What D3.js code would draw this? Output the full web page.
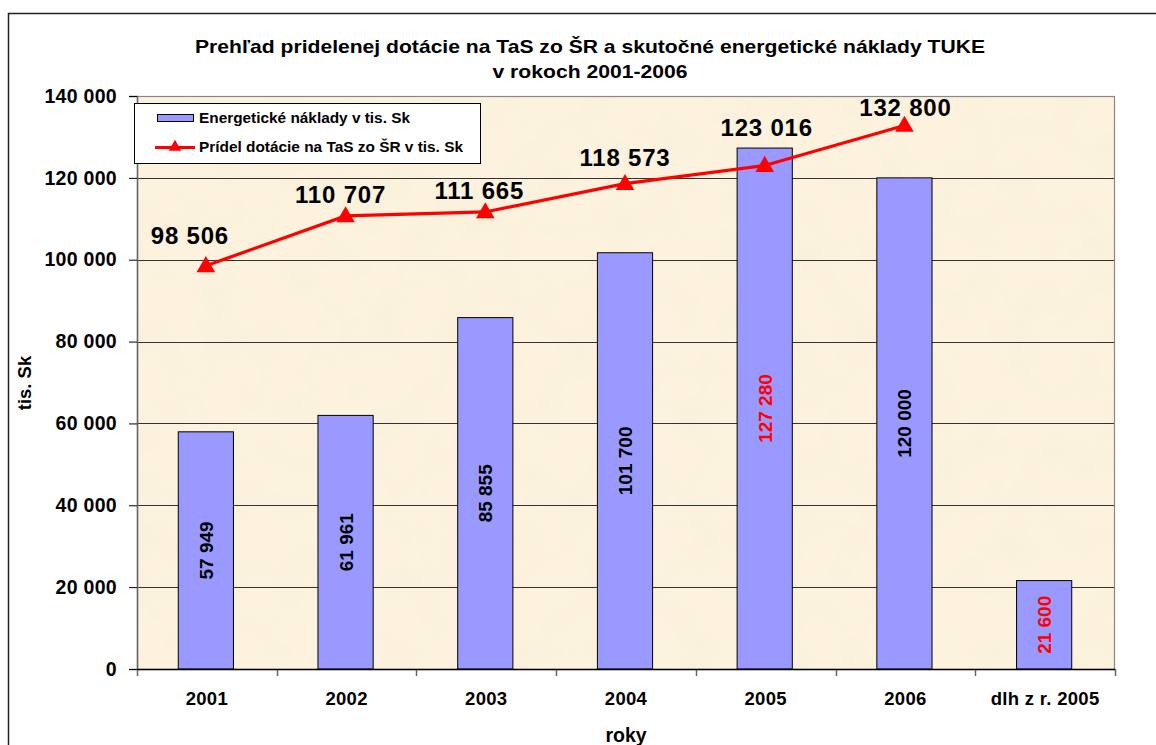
<!DOCTYPE html>
<html>
<head>
<meta charset="utf-8">
<script src="https://cdn.jsdelivr.net/npm/d3@7"></script>
<style>
  body { margin: 0; background: #fff; }
  svg text { font-family: Arial, "Liberation Sans", sans-serif; font-weight: bold; }
</style>
</head>
<body>
<div id="chart"></div>
<script>
// chart data
const categories = ["2001", "2002", "2003", "2004", "2005", "2006", "dlh z r. 2005"];
const costs = [57949, 61961, 85855, 101700, 127280, 120000, 21600];
const grantYears = ["2001", "2002", "2003", "2004", "2005", "2006"];
const grants = [98506, 110707, 111665, 118573, 123016, 132800];
const yTicks = [0, 20000, 40000, 60000, 80000, 100000, 120000, 140000];

// labels written in red in the original
const redLabels = ["2005", "dlh z r. 2005"];
// manual nudges of the line value labels (as placed in the original)
const labelDx = [-16, -5, -6, 0, 2, 1];
const labelDy = [-22, -13, -13, -18, -30, -9];

const W = 1156, H = 745;
const plot = { left: 137, right: 1115, top: 96, bottom: 669 };

const fmt = d3.formatLocale({ decimal: ",", thousands: " ", grouping: [3], currency: ["", ""] }).format(",");

const svg = d3.select("#chart").append("svg")
    .attr("width", W)
    .attr("height", H);

// parchment texture
const defs = svg.append("defs");
const filt = defs.append("filter")
    .attr("id", "parch")
    .attr("x", 0).attr("y", 0).attr("width", 1).attr("height", 1);
filt.append("feTurbulence")
    .attr("type", "fractalNoise")
    .attr("baseFrequency", 0.025)
    .attr("numOctaves", 3)
    .attr("seed", 7);
filt.append("feColorMatrix")
    .attr("type", "matrix")
    .attr("values", "0 0 0 0 0.90  0 0 0 0 0.84  0 0 0 0 0.68  0.6 0 0 0 -0.24");

// outer frame
svg.append("rect")
    .attr("x", 8.5).attr("y", 13.5)
    .attr("width", 1170).attr("height", 780)
    .attr("fill", "#fff")
    .attr("stroke", "#222")
    .attr("stroke-width", 1.5);

// scales
const x = d3.scaleBand()
    .domain(categories)
    .range([plot.left, plot.right])
    .padding(0);

const y = d3.scaleLinear()
    .domain([0, 140000])
    .range([plot.bottom, plot.top]);

const barW = x.step() * 0.395;

// plot background
svg.append("rect")
    .attr("x", plot.left).attr("y", plot.top)
    .attr("width", plot.right - plot.left).attr("height", plot.bottom - plot.top)
    .attr("fill", "#fcf2dd");
svg.append("rect")
    .attr("x", plot.left).attr("y", plot.top)
    .attr("width", plot.right - plot.left).attr("height", plot.bottom - plot.top)
    .attr("fill", "#fff")
    .attr("filter", "url(#parch)");

// gridlines
svg.append("g")
    .selectAll("line")
    .data(yTicks.filter(d => d > 0 && d < 140000))
    .enter()
    .append("line")
    .attr("x1", plot.left).attr("x2", plot.right)
    .attr("y1", d => Math.round(y(d)) + 0.5)
    .attr("y2", d => Math.round(y(d)) + 0.5)
    .attr("stroke", "#333")
    .attr("stroke-width", 1);

// plot border
svg.append("rect")
    .attr("x", plot.left + 0.5).attr("y", plot.top + 0.5)
    .attr("width", plot.right - plot.left - 1).attr("height", plot.bottom - plot.top)
    .attr("fill", "none")
    .attr("stroke", "#888")
    .attr("stroke-width", 1.2);

// bars
svg.append("g")
    .selectAll("rect")
    .data(categories)
    .enter()
    .append("rect")
    .attr("x", d => x(d) + (x.step() - barW) / 2 - 1)
    .attr("y", (d, i) => y(costs[i]))
    .attr("width", barW)
    .attr("height", (d, i) => y(0) - y(costs[i]))
    .attr("fill", "#9999ff")
    .attr("stroke", "#000")
    .attr("stroke-width", 1);

// bar value labels (rotated)
svg.append("g")
    .selectAll("text")
    .data(categories)
    .enter()
    .append("text")
    .attr("transform", (d, i) => {
        const cx = x(d) + x.step() / 2 - 1;
        const cy = (y(costs[i]) + y(0)) / 2;
        return `translate(${cx + 7},${cy}) rotate(-90)`;
    })
    .attr("text-anchor", "middle")
    .style("font-size", "19px")
    .attr("fill", d => redLabels.includes(d) ? "#ff0000" : "#000")
    .text((d, i) => fmt(costs[i]));

// y axis
const yAxis = svg.append("g")
    .attr("transform", `translate(${plot.left},0)`)
    .call(d3.axisLeft(y).tickValues(yTicks).tickSize(8).tickPadding(12).tickFormat(fmt));
yAxis.select(".domain").attr("stroke", "#666").attr("stroke-width", 1.5);
yAxis.selectAll(".tick line").attr("stroke", "#000");
yAxis.selectAll(".tick text")
    .style("font-size", "19.5px")
    .style("font-family", "Arial, 'Liberation Sans', sans-serif")
    .style("font-weight", "bold")
    .style("letter-spacing", "0.3px")
    .attr("fill", "#000");

// x axis: ticks between categories
const xEdges = categories.map(d => x(d)).concat([plot.right]);
svg.append("g")
    .selectAll("line")
    .data(xEdges)
    .enter()
    .append("line")
    .attr("x1", d => Math.round(d) + 0.5).attr("x2", d => Math.round(d) + 0.5)
    .attr("y1", plot.bottom).attr("y2", plot.bottom + 7)
    .attr("stroke", "#666")
    .attr("stroke-width", 1.5);
svg.append("line")
    .attr("x1", plot.left).attr("x2", plot.right)
    .attr("y1", plot.bottom + 0.5).attr("y2", plot.bottom + 0.5)
    .attr("stroke", "#000")
    .attr("stroke-width", 1.5);

svg.append("g")
    .selectAll("text")
    .data(categories)
    .enter()
    .append("text")
    .attr("x", d => x(d) + x.step() / 2)
    .attr("y", 705)
    .attr("text-anchor", "middle")
    .style("font-size", "18.5px")
    .style("letter-spacing", "0.3px")
    .text(d => d);

// grant line
const line = d3.line()
    .x((d, i) => x(grantYears[i]) + x.step() / 2 - 1)
    .y(d => y(d));

svg.append("path")
    .datum(grants)
    .attr("d", line)
    .attr("fill", "none")
    .attr("stroke", "#ff0000")
    .attr("stroke-width", 3.2);

const tri = d3.symbol().type(d3.symbolTriangle).size(150);
svg.append("g")
    .selectAll("path")
    .data(grants)
    .enter()
    .append("path")
    .attr("d", tri)
    .attr("transform", (d, i) => `translate(${x(grantYears[i]) + x.step() / 2 - 1},${y(d) + 1})`)
    .attr("fill", "#ff0000");

svg.append("g")
    .selectAll("text")
    .data(grants)
    .enter()
    .append("text")
    .attr("x", (d, i) => x(grantYears[i]) + x.step() / 2 - 1 + labelDx[i])
    .attr("y", (d, i) => y(d) + labelDy[i])
    .attr("text-anchor", "middle")
    .style("font-size", "24px")
    .style("letter-spacing", "0.8px")
    .attr("fill", "#000")
    .text(d => fmt(d));

// title (original text is drawn a bit wide)
const title = svg.append("text")
    .attr("text-anchor", "middle")
    .style("font-size", "19px");
title.append("tspan").attr("x", 590).attr("y", 53)
    .attr("textLength", 790).attr("lengthAdjust", "spacingAndGlyphs")
    .text("Prehľad pridelenej dotácie na TaS zo ŠR a skutočné energetické náklady TUKE");
title.append("tspan").attr("x", 590).attr("y", 78)
    .attr("textLength", 195).attr("lengthAdjust", "spacingAndGlyphs")
    .text("v rokoch 2001-2006");

// axis titles
svg.append("text")
    .attr("transform", "translate(31,383) rotate(-90)")
    .attr("text-anchor", "middle")
    .style("font-size", "18.5px")
    .text("tis. Sk");

svg.append("text")
    .attr("x", 626)
    .attr("y", 742)
    .attr("text-anchor", "middle")
    .style("font-size", "19.5px")
    .text("roky");

// legend
const legend = svg.append("g");
legend.append("rect")
    .attr("x", 134.5).attr("y", 103.5)
    .attr("width", 346).attr("height", 60)
    .attr("fill", "#fff")
    .attr("stroke", "#000")
    .attr("stroke-width", 1);
legend.append("rect")
    .attr("x", 157.5).attr("y", 114.5)
    .attr("width", 36).attr("height", 7)
    .attr("fill", "#9999ff")
    .attr("stroke", "#000")
    .attr("stroke-width", 1);
legend.append("text")
    .attr("x", 199).attr("y", 123)
    .attr("textLength", 211).attr("lengthAdjust", "spacingAndGlyphs")
    .style("font-size", "14px")
    .text("Energetické náklady v tis. Sk");
legend.append("line")
    .attr("x1", 155).attr("x2", 195)
    .attr("y1", 147.5).attr("y2", 147.5)
    .attr("stroke", "#ff0000")
    .attr("stroke-width", 3);
legend.append("path")
    .attr("d", d3.symbol().type(d3.symbolTriangle).size(70))
    .attr("transform", "translate(175,147)")
    .attr("fill", "#ff0000");
legend.append("text")
    .attr("x", 199).attr("y", 152)
    .attr("textLength", 264).attr("lengthAdjust", "spacingAndGlyphs")
    .style("font-size", "14px")
    .text("Prídel dotácie na TaS zo ŠR v tis. Sk");
</script>
</body>
</html>
